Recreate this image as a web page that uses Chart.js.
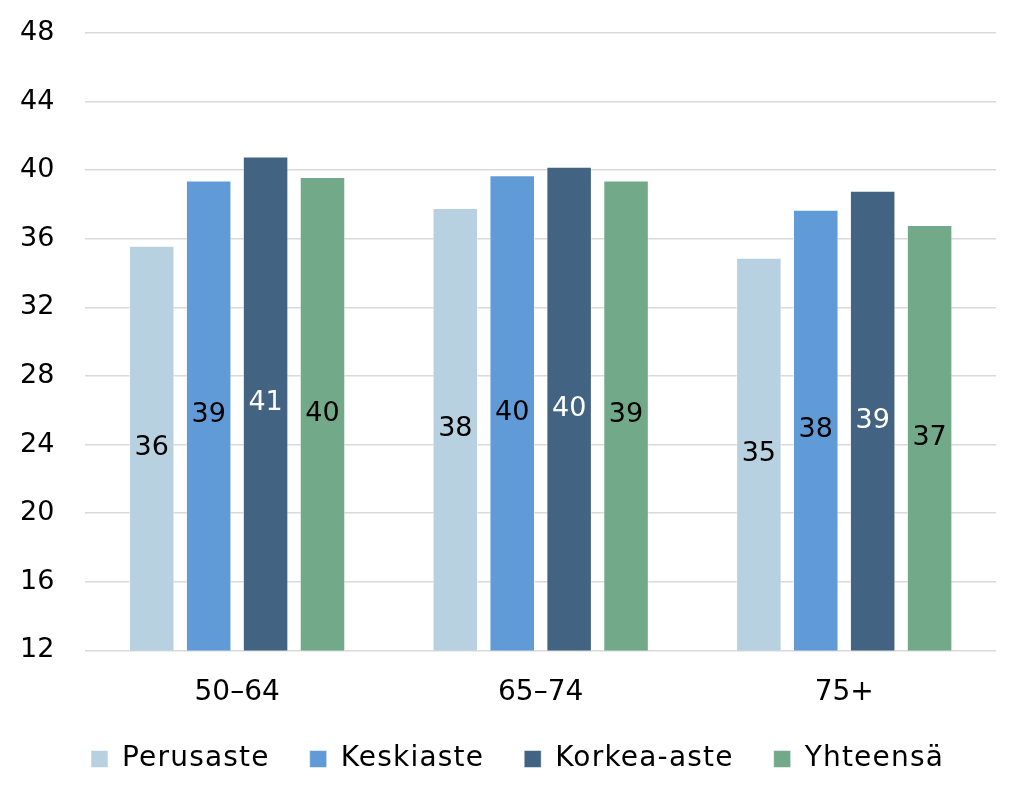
<!DOCTYPE html>
<html><head><meta charset="utf-8">
<script src="https://cdn.jsdelivr.net/npm/chart.js@4/dist/chart.umd.min.js"></script>
<style>html,body{margin:0;padding:0;background:#fff;}#wrap{width:1024px;height:801px;position:relative;}</style>
</head><body><div id="wrap"><canvas id="c" width="1024" height="801"></canvas></div>
<script>
const categories = ["50–64", "65–74", "75+"];
const seriesNames = ["Perusaste", "Keskiaste", "Korkea-aste", "Yhteensä"];
const perusaste = [35.6, 37.8, 34.9];
const keskiaste = [39.4, 39.7, 37.7];
const korkeaAste = [40.8, 40.2, 38.8];
const yhteensa = [39.6, 39.4, 36.8];
const yTicks = [12, 16, 20, 24, 28, 32, 36, 40, 44, 48];

const colors = ["#B8D1E1", "#609BD8", "#426482", "#72AA89"];
const labelColors = ["#000", "#000", "#fff", "#000"];
const FONT = "'DejaVu Sans', sans-serif";

const labelPlugin = {
  id: 'midLabels',
  afterDatasetsDraw(chart) {
    const ctx = chart.ctx;
    const yScale = chart.scales.y;
    const basePx = yScale.getPixelForValue(yScale.min);
    ctx.save();
    ctx.font = "27px " + FONT;
    ctx.textAlign = 'center';
    ctx.textBaseline = 'middle';
    chart.data.datasets.forEach((ds, i) => {
      const meta = chart.getDatasetMeta(i);
      meta.data.forEach((bar, j) => {
        const p = bar.getProps(['x', 'y'], true);
        ctx.fillStyle = labelColors[i];
        ctx.fillText(Math.round(ds.data[j]).toString(), p.x, (p.y + basePx) / 2);
      });
    });
    ctx.restore();
  }
};

// legend: wider letter spacing (reference typeface is wider), compact height, small offset
const legendAdjust = {
  id: 'legendAdjust',
  beforeLayout(chart) {
    const lg = chart.legend;
    if (!lg || lg._patched) return;
    lg._patched = true;
    const origFit = lg.fit, origDraw = lg.draw;
    lg.fit = function (...args) {
      const ctx = this.ctx;
      const prev = ctx.letterSpacing;
      ctx.letterSpacing = '1.2px';
      const r = origFit.apply(this, args);
      ctx.letterSpacing = prev;
      this.height = 65;
      return r;
    };
    lg.draw = function (...args) {
      const ctx = this.ctx;
      ctx.save();
      ctx.letterSpacing = '1.2px';
      ctx.translate(25, -31);
      const r = origDraw.apply(this, args);
      ctx.restore();
      return r;
    };
  }
};

const seriesData = [perusaste, keskiaste, korkeaAste, yhteensa];
new Chart(document.getElementById('c'), {
  type: 'bar',
  data: {
    labels: categories,
    datasets: seriesNames.map((n, i) => ({
      label: n,
      data: seriesData[i],
      backgroundColor: colors[i],
      borderColor: 'rgba(255,255,255,0.5)',
      borderWidth: 1,
      barPercentage: 0.8,
      categoryPercentage: 0.75
    }))
  },
  options: {
    responsive: false,
    animation: false,
    devicePixelRatio: 1,
    layout: { padding: { top: 33, right: 28, left: -11, bottom: 0 } },
    scales: {
      x: {
        grid: { display: false, drawTicks: false },
        border: { display: false },
        ticks: { font: { family: FONT, size: 28 }, color: '#000', padding: 26 }
      },
      y: {
        min: 12, max: 48,
        afterBuildTicks: (s) => { s.ticks = yTicks.map(v => ({ value: v })); },
        afterFit: (s) => { s.paddingTop = 16; s.paddingBottom = 16; },
        grid: { color: '#d9d9d9', lineWidth: 1.5, drawTicks: false },
        border: { display: false },
        ticks: { font: { family: FONT, size: 27 }, color: '#000', padding: 31 }
      }
    },
    plugins: {
      legend: {
        position: 'bottom',
        labels: { font: { family: FONT, size: 28 }, color: '#000', boxWidth: 17, boxHeight: 17, padding: 40 }
      },
      tooltip: { enabled: false }
    }
  },
  plugins: [labelPlugin, legendAdjust]
});
</script></body></html>
